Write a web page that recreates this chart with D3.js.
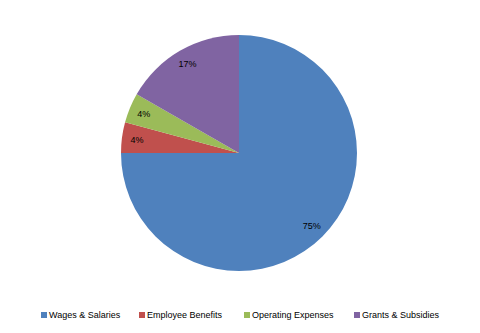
<!DOCTYPE html>
<html>
<head>
<meta charset="utf-8">
<script src="https://cdn.jsdelivr.net/npm/d3@7/dist/d3.min.js"></script>
<style>
  body { margin: 0; background: #fff; }
  svg text { font-family: "Liberation Sans", Arial, sans-serif; font-size: 9px; fill: #000; }
</style>
</head>
<body>
<div class="chart"></div>
<script>
var categories = ['Wages & Salaries', 'Employee Benefits', 'Operating Expenses', 'Grants & Subsidies'];
var values = [75.0, 4.2, 4.1, 16.7];
var colours = ['#4F81BD', '#C0504D', '#9BBB59', '#8064A2'];
var legend_x = [41, 139, 244, 354];

var w = 480,
    h = 333,
    cx = 239,
    cy = 153,
    radius = 118,
    label_radius = 103,
    legend_y = 315;

var svg = d3.select('.chart')
  .append('svg')
  .attr('width', w)
  .attr('height', h);

var data = categories.map(function(c, i) { return {name: c, value: values[i], colour: colours[i]}; });

var pie = d3.pie()
  .sort(null)
  .value(function(d) { return d.value; });

var arc = d3.arc().innerRadius(0).outerRadius(radius);
var label_arc = d3.arc().innerRadius(label_radius).outerRadius(label_radius);

var total = d3.sum(values);

var g = svg.append('g')
  .attr('transform', 'translate(' + cx + ',' + cy + ')');

g.selectAll('path')
  .data(pie(data))
  .enter().append('path')
  .attr('d', arc)
  .attr('fill', function(d) { return d.data.colour; });

g.selectAll('text')
  .data(pie(data))
  .enter().append('text')
  .attr('transform', function(d) { return 'translate(' + label_arc.centroid(d) + ')'; })
  .attr('text-anchor', 'middle')
  .attr('dy', '0.35em')
  .text(function(d) { return Math.round(100 * d.data.value / total) + '%'; });

var legend = svg.append('g').selectAll('g')
  .data(data)
  .enter().append('g')
  .attr('transform', function(d, i) { return 'translate(' + legend_x[i] + ',' + legend_y + ')'; });

legend.append('rect')
  .attr('x', 0)
  .attr('y', -3)
  .attr('width', 6)
  .attr('height', 6)
  .attr('fill', function(d) { return d.colour; });

legend.append('text')
  .attr('x', 8)
  .attr('dy', '0.35em')
  .text(function(d) { return d.name; });
</script>
</body>
</html>
